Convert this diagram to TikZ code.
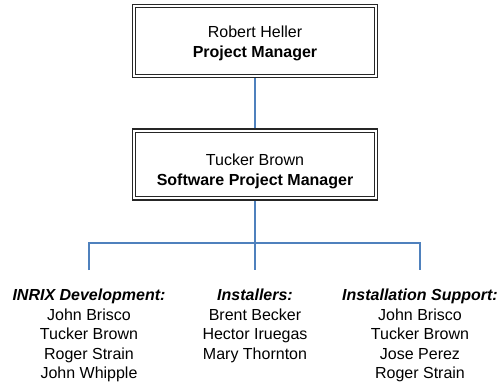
\documentclass[tikz,border=0pt]{standalone}
\usepackage{fontspec}
\setmainfont{Liberation Sans}
\definecolor{linkblue}{RGB}{79,129,189}
\begin{document}
\begin{tikzpicture}[x=1pt,y=1pt,
  mgrbox/.style={draw=black!85,line width=1.6pt,minimum width=245pt,inner sep=0pt},
  innerline/.style={draw=black!85,line width=0.9pt},
  boxtext/.style={align=center,inner sep=0pt,font=\fontsize{16}{20}\selectfont},
  grouptext/.style={align=center,inner sep=0pt,anchor=north,font=\fontsize{16}{19.5}\selectfont},
  link/.style={draw=linkblue,line width=1.2pt}]
\useasboundingbox (0,0) rectangle (501,-385);
\node[mgrbox,minimum height=73pt] (pm) at (255,-41) {};
\draw[innerline] ([shift={(3.5pt,-4pt)}]pm.north west) rectangle ([shift={(-3.5pt,4pt)}]pm.south east);
\node[boxtext] (pmt) at (255,-43.5) {Robert Heller\\\textbf{Project Manager}};
\node[mgrbox,minimum height=71pt] (spm) at (255,-164.5) {};
\draw[innerline] ([shift={(3.5pt,-4pt)}]spm.north west) rectangle ([shift={(-3.5pt,4pt)}]spm.south east);
\node[boxtext] (spmt) at (255,-171) {Tucker Brown\\\textbf{Software Project Manager}};
\node[grouptext] (g1) at (89,-289) {\textbf{\itshape INRIX Development:}\\John Brisco\\Tucker Brown\\Roger Strain\\John Whipple};
\node[grouptext] (g2) at (255,-289) {\textbf{\itshape Installers:}\\Brent Becker\\Hector Iruegas\\Mary Thornton};
\node[grouptext] (g3) at (420,-289) {\textbf{\itshape Installation Support:}\\John Brisco\\Tucker Brown\\Jose Perez\\Roger Strain};
\coordinate (j) at (255,-243);
\coordinate (dl) at (89,-270);
\coordinate (dm) at (255,-270);
\coordinate (dr) at (420,-270);
\draw[link] (pm.south) -- (spm.north);
\draw[link] (spm.south) -- (dm);
\draw[link] (dl) |- (j) -| (dr);
\end{tikzpicture}
\end{document}
